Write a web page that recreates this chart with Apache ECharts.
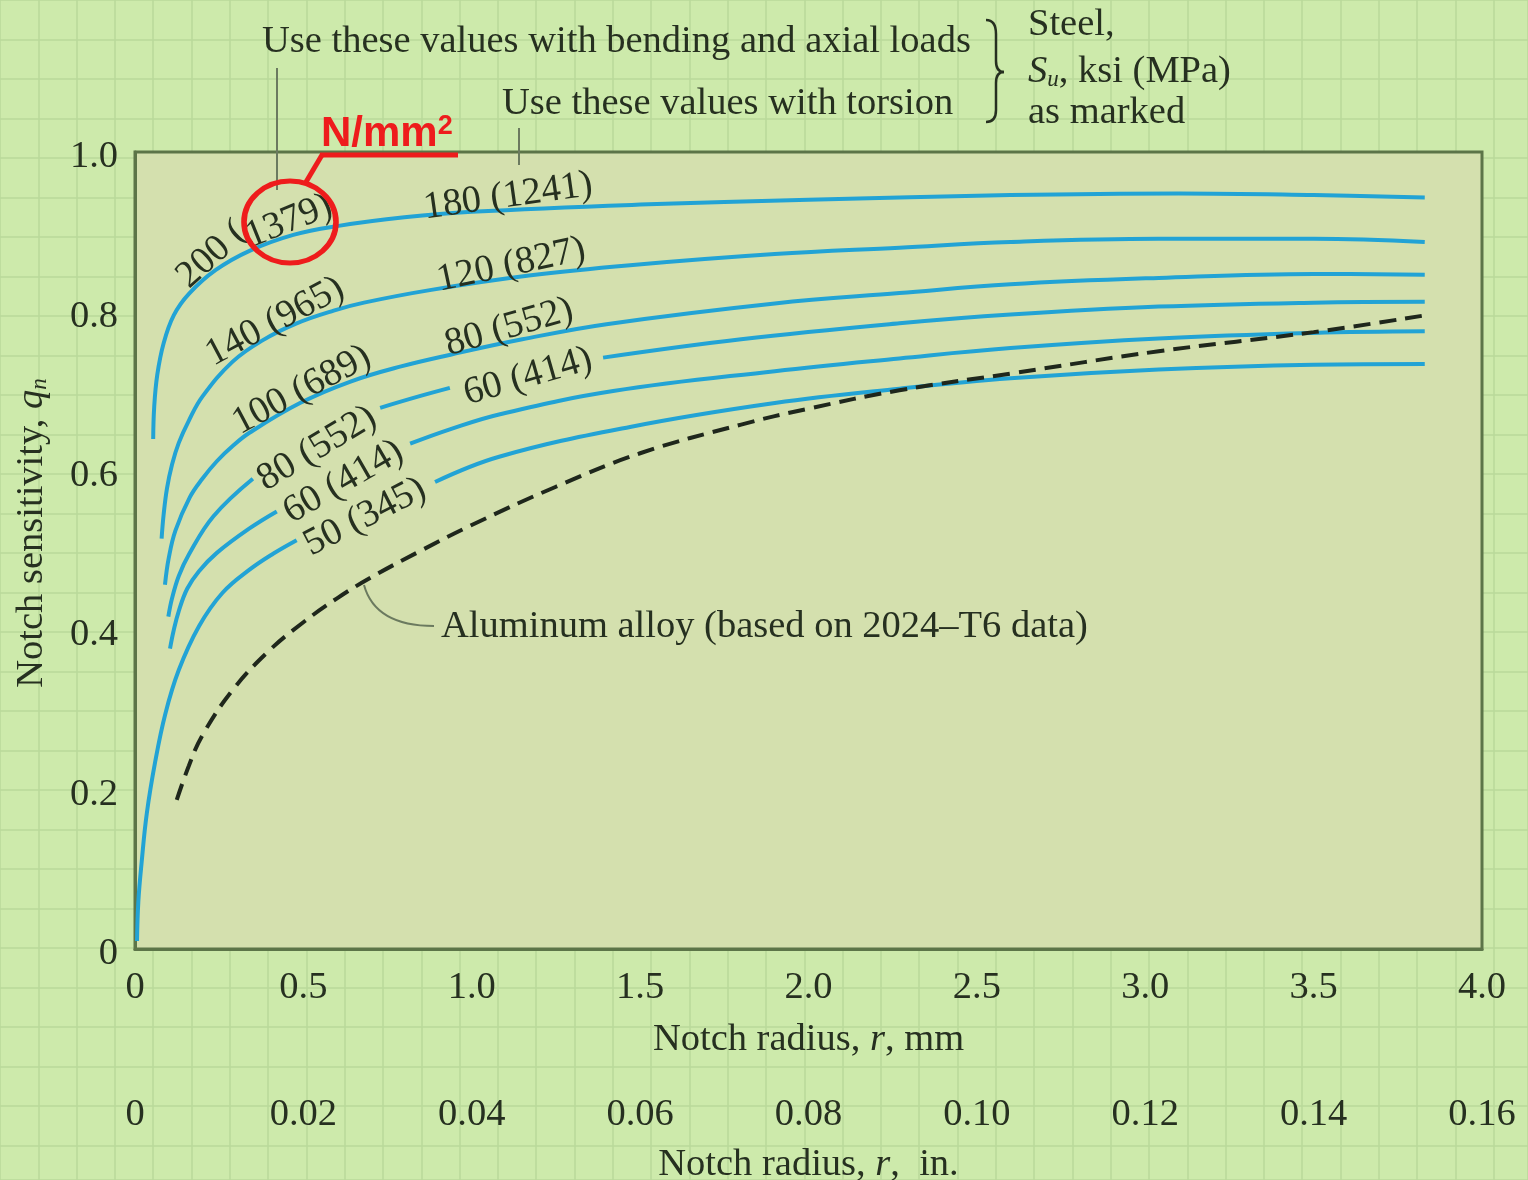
<!DOCTYPE html>
<html>
<head>
<meta charset="utf-8">
<title>Notch sensitivity</title>
<script src="https://cdn.jsdelivr.net/npm/echarts@6/dist/echarts.min.js"></script>
<style>
  html, body { margin: 0; padding: 0; background: #cdeaab; }
  #chart { width: 1528px; height: 1180px; }
</style>
</head>
<body>
<div id="chart"></div>
<script>
// tick labels
var mmTicks = ['0', '0.5', '1.0', '1.5', '2.0', '2.5', '3.0', '3.5', '4.0'];
var inTicks = ['0', '0.02', '0.04', '0.06', '0.08', '0.10', '0.12', '0.14', '0.16'];
var qTicks = ['0', '0.2', '0.4', '0.6', '0.8', '1.0'];

// steel curves [r mm, q], null = gap for an inline label
var steel200 = [[0.054, 0.64], [0.057, 0.68], [0.066, 0.72], [0.085, 0.76], [0.115, 0.795], [0.16, 0.822],
  [0.24, 0.852], [0.34, 0.876], [0.47, 0.896], [0.6, 0.907], [0.8, 0.918], [1.0, 0.925], [1.5, 0.934],
  [2.0, 0.940], [2.6, 0.946], [3.1, 0.948], [3.5, 0.946], [3.83, 0.943]];
var steel140 = [[0.079, 0.515], [0.085, 0.545], [0.095, 0.578], [0.11, 0.608], [0.13, 0.635], [0.16, 0.663],
  [0.2, 0.693], [0.29, 0.737], [0.38, 0.764], [0.48, 0.785], [0.59, 0.801], [0.68, 0.811], [0.88, 0.827],
  [1.17, 0.845], [1.47, 0.858], [1.9, 0.872], [2.27, 0.880], [2.6, 0.887], [3.04, 0.891], [3.5, 0.891],
  [3.83, 0.887]];
var steel100 = [[0.089, 0.457], [0.1, 0.49], [0.12, 0.525], [0.163, 0.567], [0.2, 0.59], [0.243, 0.612],
  [0.29, 0.631], [0.341, 0.648], [0.49, 0.685], [0.64, 0.712], [0.79, 0.731], [0.94, 0.746], [1.15, 0.765],
  [1.4, 0.784], [1.9, 0.81], [2.27, 0.823], [2.6, 0.834], [3.04, 0.842], [3.5, 0.847], [3.83, 0.846]];
var steel80 = [[0.099, 0.417], [0.11, 0.44], [0.13, 0.468], [0.16, 0.495], [0.233, 0.543], [0.35, 0.59], null,
  [0.728, 0.679], [0.84, 0.693], [0.935, 0.704], null,
  [1.39, 0.742], [1.8, 0.765], [2.27, 0.785], [2.6, 0.796], [3.04, 0.806], [3.5, 0.811], [3.83, 0.812]];
var steel60 = [[0.104, 0.377], [0.115, 0.40], [0.13, 0.424], [0.155, 0.452], [0.19, 0.474], [0.243, 0.497],
  [0.341, 0.528], [0.421, 0.549], null,
  [0.817, 0.634], [0.935, 0.652], [1.084, 0.671], [1.42, 0.70], [1.9, 0.725], [2.27, 0.741], [2.6, 0.754],
  [3.04, 0.766], [3.5, 0.773], [3.83, 0.775]];
var steel50 = [[0.006, 0.01], [0.01, 0.06], [0.02, 0.11], [0.035, 0.17], [0.06, 0.235], [0.09, 0.295],
  [0.13, 0.35], [0.19, 0.405], [0.26, 0.447], [0.34, 0.476], [0.41, 0.496], [0.48, 0.513], null,
  [0.891, 0.586], [1.084, 0.618], [1.47, 0.655], [1.9, 0.685], [2.27, 0.703], [2.6, 0.716], [3.04, 0.727],
  [3.5, 0.733], [3.83, 0.734]];
// aluminum alloy 2024-T6
var aluminum = [[0.124, 0.187], [0.16, 0.23], [0.2, 0.268], [0.29, 0.325], [0.4, 0.375], [0.5, 0.41],
  [0.6, 0.44], [0.7, 0.466], [0.85, 0.5], [1.0, 0.532], [1.25, 0.58], [1.5, 0.622], [1.8, 0.658],
  [2.0, 0.678], [2.27, 0.701], [2.6, 0.722], [3.04, 0.750], [3.5, 0.774], [3.83, 0.795]];

// curve labels: text, anchor [r, q], angle
var labelText = ['200 (', '1379)', '180 (1241)', '140 (965)', '120 (827)', '100 (689)', '80 (552)',
  '80 (552)', '60 (414)', '60 (414)', '50 (345)'];
var labelAt = [[0.229, 0.871], [0.457, 0.913], [1.108, 0.944], [0.416, 0.787], [1.117, 0.858], [0.495, 0.701],
  [1.111, 0.780], [0.540, 0.628], [1.167, 0.718], [0.619, 0.586], [0.683, 0.542]];
var labelAngle = [42, 22, 8, 28, 12, 28, 16, 31, 16, 30, 27];

var serif = "'Liberation Serif', 'Times New Roman', serif";
var ink = '#263020';
var blue = '#22a3d5';
var leader = '#6b7a5f';
var red = '#ee1c1c';
var fs = 38.5;

function segments(pts) {
  var out = [], cur = [];
  pts.forEach(function (p) {
    if (p === null) {
      if (cur.length) out.push(cur);
      cur = [];
    } else {
      cur.push(p);
    }
  });
  if (cur.length) out.push(cur);
  return out;
}

var series = [];
[steel200, steel140, steel100, steel80, steel60, steel50].forEach(function (c) {
  segments(c).forEach(function (seg) {
    series.push({
      type: 'line', xAxisIndex: 1, yAxisIndex: 1, data: seg,
      smooth: 0.4, showSymbol: false, symbol: 'none',
      lineStyle: { color: blue, width: 4 }, z: 3, silent: true
    });
  });
});
series.push({
  type: 'line', xAxisIndex: 1, yAxisIndex: 1, data: aluminum,
  smooth: 0.4, showSymbol: false, symbol: 'none',
  lineStyle: { color: '#1f271c', width: 4, type: [17, 9] }, z: 4, silent: true
});
series.push({
  type: 'scatter', xAxisIndex: 1, yAxisIndex: 1, symbolSize: 1, z: 5, silent: true,
  itemStyle: { color: 'rgba(0,0,0,0)' },
  data: labelText.map(function (t, i) {
    return {
      name: t, value: labelAt[i],
      label: { rotate: labelAngle[i] }
    };
  }),
  label: {
    show: true, position: 'inside', formatter: '{b}', opacity: 1,
    textBorderWidth: 0, fontFamily: serif, fontSize: fs, color: ink
  }
});

var richName = {
  i: { fontFamily: serif, fontSize: fs, fontStyle: 'italic', color: ink },
  s: { fontFamily: serif, fontSize: 23, fontStyle: 'italic', color: ink, verticalAlign: 'bottom' }
};

function seg(x1, y1, x2, y2, color, w, z) {
  return { type: 'line', z: z, shape: { x1: x1, y1: y1, x2: x2, y2: y2 }, style: { stroke: color, lineWidth: w } };
}
function curve(x1, y1, c1x, c1y, c2x, c2y, x2, y2, color, w) {
  return {
    type: 'bezierCurve', z: 10,
    shape: { x1: x1, y1: y1, cpx1: c1x, cpy1: c1y, cpx2: c2x, cpy2: c2y, x2: x2, y2: y2 },
    style: { fill: 'none', stroke: color, lineWidth: w }
  };
}
function note(text, x, y) {
  return {
    type: 'text', x: x, y: y, z: 10,
    style: { text: text, verticalAlign: 'middle', fontFamily: serif, fontSize: fs, fill: ink, rich: richName }
  };
}

var option = {
  backgroundColor: '#cdeaab',
  animation: false,
  grid: [
    { left: 0, top: 0, width: 1528, height: 1180, show: false, z: 0, outerBoundsMode: 'none', containLabel: false },
    {
      left: 135, top: 152, right: 46, bottom: 231, show: true, z: 1,
      outerBoundsMode: 'none', containLabel: false,
      backgroundColor: '#d4e0ae', borderColor: '#5c7548', borderWidth: 3
    }
  ],
  xAxis: [
    {
      gridIndex: 0, type: 'value', min: 0, max: 1528, interval: 38.3, z: 0,
      axisLine: { show: false }, axisTick: { show: false }, axisLabel: { show: false },
      splitLine: { show: true, lineStyle: { color: '#b9d89a', width: 1.5 } }
    },
    {
      gridIndex: 1, type: 'value', min: 0, max: 4, interval: 0.5, z: 2,
      axisLine: { show: true, onZero: false, lineStyle: { color: '#5c7548', width: 3 } },
      axisTick: { show: false }, splitLine: { show: false },
      axisLabel: {
        margin: 19, fontFamily: serif, fontSize: fs, color: ink,
        formatter: function (v) { return mmTicks[Math.round(v / 0.5)]; }
      },
      name: 'Notch radius, {i|r}, mm', nameLocation: 'middle', nameGap: 71,
      nameTextStyle: { fontFamily: serif, fontSize: fs, color: ink, rich: richName }
    },
    {
      gridIndex: 1, type: 'value', min: 0, max: 0.16, interval: 0.02, position: 'bottom', offset: 129, z: 2,
      axisLine: { show: false }, axisTick: { show: false }, splitLine: { show: false },
      axisLabel: {
        margin: 17, fontFamily: serif, fontSize: fs, color: ink,
        formatter: function (v) { return inTicks[Math.round(v / 0.02)]; }
      },
      name: 'Notch radius, {i|r},  in.', nameLocation: 'middle', nameGap: 67,
      nameTextStyle: { fontFamily: serif, fontSize: fs, color: ink, rich: richName }
    }
  ],
  yAxis: [
    {
      gridIndex: 0, type: 'value', min: 0, max: 1180, interval: 39.5, inverse: true, z: 0,
      axisLine: { show: false }, axisTick: { show: false }, axisLabel: { show: false },
      splitLine: { show: true, lineStyle: { color: '#b9d89a', width: 1.5 } }
    },
    {
      gridIndex: 1, type: 'value', min: 0, max: 1, interval: 0.2, z: 2,
      axisLine: { show: true, onZero: false, lineStyle: { color: '#5c7548', width: 3 } },
      axisTick: { show: false }, splitLine: { show: false },
      axisLabel: {
        margin: 17, verticalAlign: 'top', lineHeight: 10, fontFamily: serif, fontSize: fs, color: ink,
        formatter: function (v) { return qTicks[Math.round(v / 0.2)]; }
      }
    }
  ],
  graphic: [
    // y axis title
    {
      type: 'text', x: 32, y: 533, rotation: Math.PI / 2, z: 10,
      style: {
        text: 'Notch sensitivity, {i|q}{s|n}', align: 'center', verticalAlign: 'middle',
        fontFamily: serif, fontSize: fs, fill: ink, rich: richName
      }
    },
    // header notes
    note('Use these values with bending and axial loads', 262, 42),
    note('Use these values with torsion', 502, 104),
    note('Steel,', 1028, 25),
    note('{i|S}{s|u}, ksi (MPa)', 1028, 72),
    note('as marked', 1028, 113),
    // brace
    curve(986, 20, 993, 20, 996, 25, 996, 34, ink, 2.5),
    seg(996, 34, 996, 61, ink, 2.5, 10),
    curve(996, 61, 996, 68, 999, 72, 1004, 72, ink, 2.5),
    curve(1004, 72, 999, 72, 996, 76, 996, 83, ink, 2.5),
    seg(996, 83, 996, 110, ink, 2.5, 10),
    curve(996, 110, 996, 118, 993, 122, 986, 122, ink, 2.5),
    // pointer lines
    seg(277, 68, 277, 190, leader, 2, 10),
    seg(519, 128, 519, 165, leader, 2, 10),
    // aluminum note
    curve(364, 585, 372, 614, 398, 626, 434, 626, leader, 2),
    note('Aluminum alloy (based on 2024\u2013T6 data)', 441, 627),
    // red unit callout
    {
      type: 'text', x: 321, y: 134, z: 11,
      style: {
        text: 'N/mm{sup|2}', verticalAlign: 'middle', fontFamily: "'Liberation Sans', Arial, sans-serif",
        fontWeight: 'bold', fontSize: 42, fill: red,
        rich: { sup: { fontFamily: "'Liberation Sans', Arial, sans-serif", fontWeight: 'bold', fontSize: 27,
          color: red, verticalAlign: 'top' } }
      }
    },
    seg(320, 155, 458, 155, red, 5, 11),
    seg(322, 155, 306, 182, red, 5, 11),
    {
      type: 'circle', z: 11, x: 290, y: 222, scaleX: 46 / 41,
      shape: { cx: 0, cy: 0, r: 41 },
      style: { fill: 'none', stroke: red, lineWidth: 5 }
    }
  ],
  series: series
};

var chart = echarts.init(document.getElementById('chart'));
chart.setOption(option);
</script>
</body>
</html>
